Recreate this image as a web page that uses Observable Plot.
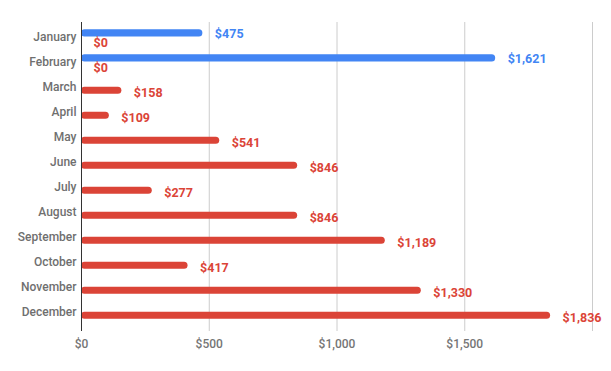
<!DOCTYPE html>
<html>
<head>
<meta charset="utf-8">
<script src="https://cdn.jsdelivr.net/npm/d3@7"></script>
<script src="https://cdn.jsdelivr.net/npm/@observablehq/plot@0.6"></script>
<style>
  body { margin: 0; background: #fff; }
  #chart svg { display: block; }
</style>
</head>
<body>
<div id="chart"></div>
<script>
const months = ["January","February","March","April","May","June","July","August","September","October","November","December"];
const blueValues = [475, 1621, null, null, null, null, null, null, null, null, null, null];
const redValues = [0, 0, 158, 109, 541, 846, 277, 846, 1189, 417, 1330, 1836];
const xTicks = [0, 500, 1000, 1500];
const gridValues = [500, 1000, 1500, 2000];

const blue = "#4285F4";
const red = "#DB4437";

const blueData = months.map((m, i) => ({month: m, value: blueValues[i]})).filter(d => d.value != null);
const redData = months.map((m, i) => ({month: m, value: redValues[i]}));
const fmt = d3.format("$,");

const chart = Plot.plot({
  width: 611,
  height: 371,
  marginLeft: 81,
  marginRight: 19,
  marginTop: 22,
  marginBottom: 45,
  style: {fontFamily: "Roboto, sans-serif", fontSize: "12px", background: "#fff"},
  x: {domain: [0, 2000]},
  y: {domain: months, padding: 0},
  marks: [
    Plot.ruleX(gridValues, {stroke: "#cccccc", strokeWidth: 1, insetBottom: -5}),
    Plot.barX(blueData, {x: "value", y: "month", fill: blue, insetTop: 5.3, insetBottom: 12.6, rx: 3.5}),
    Plot.barX(redData, {x: "value", y: "month", fill: red, insetTop: 12.7, insetBottom: 5.3, rx: 3.5}),
    Plot.ruleX([0], {stroke: "#333333", strokeWidth: 1, insetBottom: -5}),
    Plot.text(blueData, {x: "value", y: "month", text: d => fmt(d.value), fill: blue, textAnchor: "start", dx: 12, dy: -3, fontWeight: "bold", fontSize: 12.5}),
    Plot.text(redData, {x: "value", y: "month", text: d => fmt(d.value), fill: red, textAnchor: "start", dx: 12, dy: 5.5, fontWeight: "bold", fontSize: 12.5}),
    Plot.axisY({tickSize: 0, tickPadding: 5, label: null, fill: "#6f6f6f", fontWeight: 500, fontSize: 12}),
    Plot.axisX({ticks: xTicks, tickFormat: fmt, tickSize: 0, tickPadding: 13, label: null, fill: "#757575", fontWeight: 500, fontSize: 12})
  ]
});
document.getElementById("chart").appendChild(chart);
</script>
</body>
</html>
